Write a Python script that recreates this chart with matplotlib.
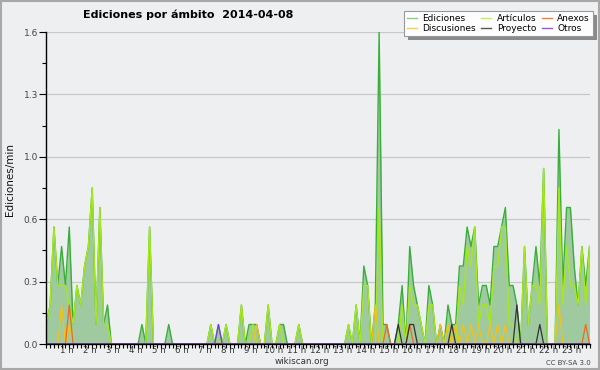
import numpy as np
import matplotlib
matplotlib.use("Agg")
from matplotlib import pyplot as plt
from matplotlib.lines import Line2D
from matplotlib.patches import Rectangle

# 10-minute bins over the day, one row per hour (values in edits/min)
ediciones = [
    0.1, 0.2, 0.6, 0.3, 0.5, 0.3,
    0.6, 0.1, 0.3, 0.2, 0.4, 0.5,
    0.8, 0.1, 0.7, 0.1, 0.2, 0.0,
    0.0, 0.0, 0.0, 0.0, 0.0, 0.0,
    0.0, 0.1, 0.0, 0.6, 0.0, 0.0,
    0.0, 0.0, 0.1, 0.0, 0.0, 0.0,
    0.0, 0.0, 0.0, 0.0, 0.0, 0.0,
    0.0, 0.1, 0.0, 0.1, 0.0, 0.1,
    0.0, 0.0, 0.0, 0.2, 0.0, 0.1,
    0.1, 0.1, 0.0, 0.0, 0.2, 0.0,
    0.0, 0.1, 0.1, 0.0, 0.0, 0.0,
    0.1, 0.0, 0.0, 0.0, 0.0, 0.0,
    0.0, 0.0, 0.0, 0.0, 0.0, 0.0,
    0.0, 0.1, 0.0, 0.2, 0.0, 0.4,
    0.3, 0.0, 0.2, 1.6, 0.1, 0.1,
    0.0, 0.0, 0.1, 0.3, 0.0, 0.5,
    0.3, 0.2, 0.1, 0.0, 0.3, 0.2,
    0.0, 0.1, 0.0, 0.2, 0.1, 0.1,
    0.4, 0.4, 0.6, 0.5, 0.6, 0.2,
    0.3, 0.3, 0.2, 0.5, 0.5, 0.6,
    0.7, 0.3, 0.3, 0.2, 0.0, 0.5,
    0.1, 0.3, 0.5, 0.3, 0.9, 0.0,
    0.0, 0.0, 1.1, 0.3, 0.7, 0.7,
    0.4, 0.2, 0.5, 0.3, 0.5,
]
articulos = [
    0.1, 0.2, 0.6, 0.3, 0.3, 0.3,
    0.2, 0.1, 0.3, 0.2, 0.4, 0.5,
    0.8, 0.1, 0.7, 0.1, 0.1, 0.0,
    0.0, 0.0, 0.0, 0.0, 0.0, 0.0,
    0.0, 0.0, 0.0, 0.6, 0.0, 0.0,
    0.0, 0.0, 0.0, 0.0, 0.0, 0.0,
    0.0, 0.0, 0.0, 0.0, 0.0, 0.0,
    0.0, 0.1, 0.0, 0.0, 0.0, 0.1,
    0.0, 0.0, 0.0, 0.2, 0.0, 0.0,
    0.1, 0.0, 0.0, 0.0, 0.2, 0.0,
    0.0, 0.1, 0.0, 0.0, 0.0, 0.0,
    0.1, 0.0, 0.0, 0.0, 0.0, 0.0,
    0.0, 0.0, 0.0, 0.0, 0.0, 0.0,
    0.0, 0.1, 0.0, 0.2, 0.0, 0.3,
    0.3, 0.0, 0.0, 0.7, 0.0, 0.0,
    0.0, 0.0, 0.0, 0.2, 0.0, 0.3,
    0.2, 0.2, 0.1, 0.0, 0.2, 0.2,
    0.0, 0.0, 0.0, 0.1, 0.0, 0.0,
    0.3, 0.2, 0.5, 0.4, 0.6, 0.1,
    0.2, 0.2, 0.1, 0.4, 0.4, 0.6,
    0.6, 0.1, 0.1, 0.0, 0.0, 0.5,
    0.1, 0.3, 0.3, 0.2, 0.9, 0.0,
    0.0, 0.0, 0.8, 0.2, 0.5, 0.3,
    0.3, 0.2, 0.5, 0.2, 0.5,
]
# sparse series: bin -> value
discusiones_pts = {4: 0.2, 6: 0.1, 55: 0.1, 86: 0.2, 103: 0.1, 105: 0.1, 107: 0.1,
                   109: 0.1, 111: 0.1, 113: 0.1, 116: 0.1, 118: 0.1, 120: 0.1, 134: 0.2}
anexos_pts = {6: 0.2, 89: 0.1, 95: 0.1, 141: 0.1}
proyecto_pts = {92: 0.1, 95: 0.1, 96: 0.1, 106: 0.1, 123: 0.2, 129: 0.1}
otros_pts = {45: 0.1}

hour_labels = [f"{h} h" for h in range(1, 24)]

BG = "#eeeff1"


def dense(pts, n):
    out = np.zeros(n)
    for k, v in pts.items():
        out[k] = v
    return out


def main():
    n = len(ediciones)
    x = np.arange(n)
    disc = dense(discusiones_pts, n)
    anex = dense(anexos_pts, n)
    proy = dense(proyecto_pts, n)
    otros = dense(otros_pts, n)

    fig = plt.figure(figsize=(6, 3.7), dpi=100, facecolor=BG)
    ax = fig.add_axes([46.3 / 600, 26 / 370, 544 / 600, 312 / 370])
    ax.set_facecolor(BG)

    # gridlines
    yt = np.arange(0, 1.61, 0.32)
    for v in yt[1:]:
        ax.axhline(v, color="#c8c8c8", lw=0.9, zorder=0)

    ax.fill_between(x, ediciones, color="#9fc99f", lw=0, zorder=1)
    ax.plot(x, ediciones, color="#3aae3a", lw=1.0, zorder=2)
    ax.plot(x, articulos, color="#a6e81c", lw=1.0, zorder=2.1)
    ax.plot(x, disc, color="#f2c21a", lw=0.9, zorder=2.2)
    ax.plot(x, anex, color="#ee6a22", lw=0.9, zorder=2.3)
    ax.plot(x, proy, color="#333333", lw=0.9, zorder=2.3)
    ax.plot(x, otros, color="#7a3ee0", lw=0.9, zorder=2.3)

    ax.set_xlim(0, n - 0.8)
    ax.set_ylim(0, 1.6)

    for s in ["top", "right"]:
        ax.spines[s].set_visible(False)
    for s in ["left", "bottom"]:
        ax.spines[s].set_color("black")
        ax.spines[s].set_linewidth(1.0)
        ax.spines[s].set_zorder(5)

    ax.set_yticks(yt)
    ax.set_yticklabels([f"{v:.1f}" for v in yt])
    ax.set_yticks(np.arange(0.16, 1.6, 0.32), minor=True)
    ax.tick_params(axis="y", which="major", length=5, width=0.8, labelsize=6.5,
                   labelcolor="#444444", pad=1)
    ax.tick_params(axis="y", which="minor", length=3, width=0.8)

    ax.set_xticks(np.arange(6, 144, 6) - 0.6)
    ax.set_xticklabels(hour_labels)
    ax.set_xticks(np.arange(0, n), minor=True)
    ax.tick_params(axis="x", which="major", length=0, labelsize=6.2,
                   labelcolor="#333333", pad=1.5)
    ax.tick_params(axis="x", which="minor", length=3, width=0.8)

    fig.text(10 / 600, 1 - 180 / 370, "Ediciones/min", rotation=90,
             ha="center", va="center", fontsize=7.5, color="#111111")
    fig.text(188 / 600, 1 - 15 / 370, "Ediciones por ámbito  2014-04-08",
             ha="center", va="center", fontsize=8, fontweight="bold")
    fig.text(302 / 600, 1 - 362 / 370, "wikiscan.org", ha="center", va="center",
             fontsize=6.3, color="#333333")
    fig.text(591 / 600, 1 - 363 / 370, "CC BY-SA 3.0", ha="right", va="center",
             fontsize=5, color="#444444")

    handles = [
        Line2D([], [], color="#88cc88", lw=1.0),
        Line2D([], [], color="#f5d442", lw=1.0),
        Line2D([], [], color="#c9ee55", lw=1.0),
        Line2D([], [], color="#555555", lw=1.0),
        Line2D([], [], color="#f08040", lw=1.0),
        Line2D([], [], color="#9a55e0", lw=1.0),
    ]
    labels = ["Ediciones", "Discusiones", "Artículos", "Proyecto", "Anexos", "Otros"]
    leg = fig.legend(handles, labels, ncol=3, loc="upper right",
                     bbox_to_anchor=(593 / 600, 1 - 11 / 370), fontsize=6.5,
                     frameon=True, fancybox=False, shadow=False,
                     handlelength=1.1, handletextpad=0.6, columnspacing=0.6,
                     labelspacing=0.1, borderpad=0.35, borderaxespad=0)
    leg.get_frame().set_facecolor("#fdfdfd")
    leg.get_frame().set_edgecolor("#999999")
    leg.get_frame().set_linewidth(0.8)
    leg.get_frame().set_alpha(1)

    # legend shadow
    fig.canvas.draw()
    bb = leg.get_window_extent().transformed(fig.transFigure.inverted())
    fig.patches.append(Rectangle((bb.x0 + 4 / 600, bb.y0 - 4 / 370), bb.width, bb.height,
                                 transform=fig.transFigure, facecolor="#8a8a8a",
                                 edgecolor="none", zorder=leg.get_zorder() - 1))

    # outer border
    fig.patches.append(Rectangle((0.001, 0.002), 0.997, 0.996, transform=fig.transFigure,
                                 fill=False, edgecolor="#a8a8a8", lw=1.5))

    fig.savefig("out.png", dpi=100, facecolor=BG)


if __name__ == "__main__":
    main()
